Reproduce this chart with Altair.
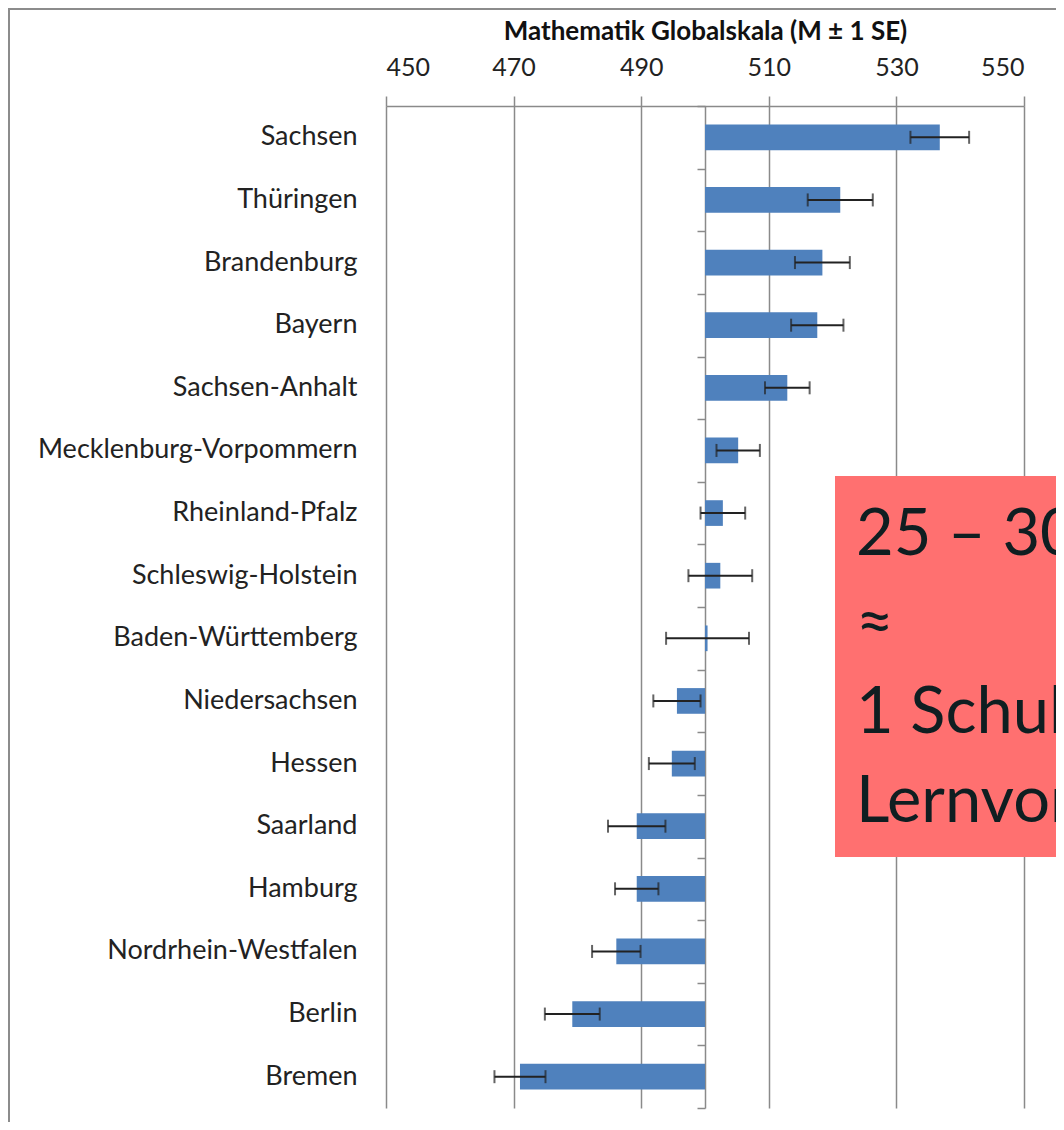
import altair as alt
import pandas as pd

# ---- data ----
states = ["Sachsen", "Thüringen", "Brandenburg", "Bayern", "Sachsen-Anhalt",
          "Mecklenburg-Vorpommern", "Rheinland-Pfalz", "Schleswig-Holstein",
          "Baden-Württemberg", "Niedersachsen", "Hessen", "Saarland", "Hamburg",
          "Nordrhein-Westfalen", "Berlin", "Bremen"]
means = [536.8, 521.2, 518.4, 517.6, 512.9, 505.2, 502.8, 502.4,
         500.4, 495.6, 494.8, 489.3, 489.3, 486.1, 479.2, 471.0]
ses = [4.6, 5.1, 4.3, 4.1, 3.5, 3.4, 3.5, 5.0,
       6.5, 3.7, 3.6, 4.5, 3.4, 3.8, 4.3, 4.0]
x_ticks = [450, 470, 490, 510, 530, 550]
x_domain = [450, 550]
baseline_value = 500
axis_title = "Mathematik Globalskala (M ± 1 SE)"
box_lines = ["25 – 30 Punkte", "≈", "1 Schuljahr", "Lernvorsprung"]

df = pd.DataFrame({"state": states, "mean": means, "se": ses})
df["lo"] = df["mean"] - df["se"]
df["hi"] = df["mean"] + df["se"]
df["base"] = baseline_value

note = pd.DataFrame({"t": ["\n".join(box_lines)]})

FONT = "Lato"
GRAY = "#8a8a8a"
INK = "#222222"
BLUE = "#4f81bd"
W, H = 638, 1002


def yscale():
    return alt.Scale(paddingInner=0.59, paddingOuter=0.295)


xscale = alt.Scale(domain=x_domain, nice=False, zero=False)

base = alt.Chart(df)

bars = base.mark_bar(color=BLUE).encode(
    y=alt.Y("state:N", sort=states, scale=yscale(),
            axis=alt.Axis(title=None, domain=False, ticks=False, grid=False,
                          labelPadding=29, labelFontSize=27, labelFont=FONT,
                          labelColor=INK, labelLimit=0, orient="left")),
    x=alt.X("mean:Q", scale=xscale,
            axis=alt.Axis(orient="top", values=x_ticks, title=axis_title,
                          titleFont=FONT, titleFontSize=26, titleFontWeight="bold",
                          titleColor="#111111", titlePadding=11,
                          labelFont=FONT, labelFontSize=25, labelColor=INK,
                          labelPadding=16, tickSize=10, tickColor=GRAY,
                          tickWidth=1.5, domainColor=GRAY, domainWidth=1.5,
                          grid=True, gridColor=GRAY, gridWidth=1.5)),
    x2="base",
)

err = base.mark_rule(color=INK, strokeWidth=2).encode(
    y=alt.Y("state:N", sort=states, scale=yscale(), axis=None),
    x=alt.X("lo:Q", scale=xscale),
    x2="hi",
)

caps = base.transform_fold(["lo", "hi"], as_=["k", "v"]).mark_tick(
    color=INK, thickness=2, size=13
).encode(
    y=alt.Y("state:N", sort=states, scale=yscale(), axis=None),
    x=alt.X("v:Q", scale=xscale),
)

axis_offset = -(baseline_value - x_domain[0]) / (x_domain[1] - x_domain[0]) * W
tick_axis = alt.Chart(df).mark_bar(opacity=0).encode(
    y=alt.Y("state:N", sort=states,
            scale=alt.Scale(paddingInner=0, paddingOuter=0),
            axis=alt.Axis(orient="left", labels=False, title=None, grid=False,
                          domain=True, domainColor=GRAY, domainWidth=1.5,
                          ticks=True, tickBand="extent", tickSize=8,
                          tickColor=GRAY, tickWidth=1.5, offset=axis_offset)),
)

frame_left = alt.Chart(note).mark_rule(color="#8c8c8c", strokeWidth=2).encode(
    x=alt.value(-377), y=alt.value(-98), y2=alt.value(1030))
frame_top = alt.Chart(note).mark_rule(color="#8c8c8c", strokeWidth=2).encode(
    x=alt.value(-378), x2=alt.value(720), y=alt.value(-97))

box = alt.Chart(note).mark_rect(color="#ff7070").encode(
    x=alt.value(449), x2=alt.value(720), y=alt.value(370), y2=alt.value(751))

box_text = alt.Chart(note).mark_text(
    align="left", baseline="alphabetic", font=FONT, fontSize=65,
    color="#0f1e21", lineBreak="\n", lineHeight=89
).encode(x=alt.value(470), y=alt.value(449), text="t:N")

chart = alt.layer(
    bars, err, caps, tick_axis, frame_left, frame_top, box, box_text
).resolve_scale(
    y="independent"
).properties(
    width=W, height=H,
    autosize=alt.AutoSizeParams(type="none"),
    padding={"left": 378, "top": 98, "right": 32, "bottom": 14},
    background="white",
).configure_view(stroke=None)

chart.save("out.html", embed_options={"renderer": "svg", "actions": False})
